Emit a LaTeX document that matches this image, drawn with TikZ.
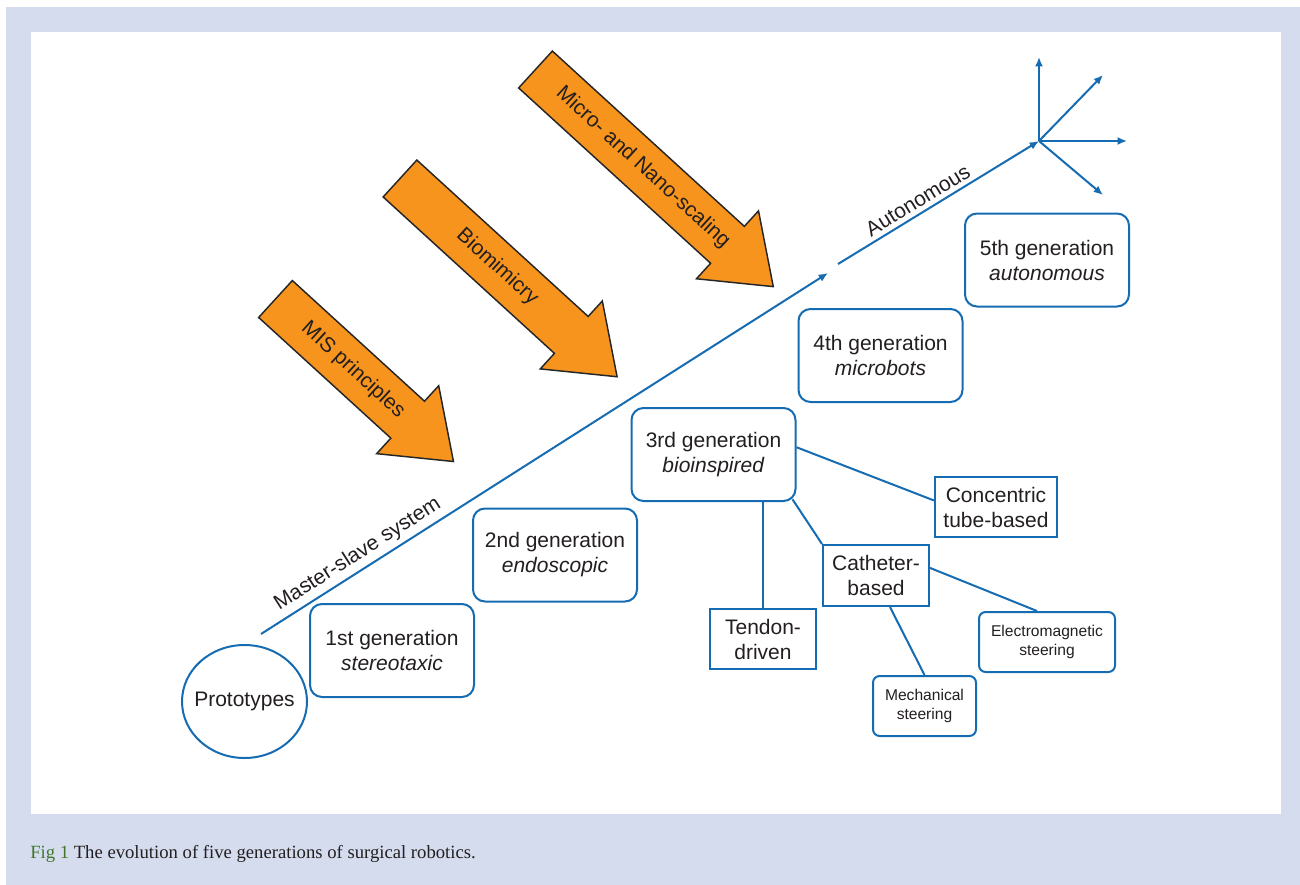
\documentclass[tikz,border=0pt]{standalone}
\usepackage{fontspec}
\setmainfont{Liberation Sans}
\newfontfamily\capfont{Liberation Serif}
\usepackage{xcolor}
\usetikzlibrary{arrows.meta,shapes.geometric}
\definecolor{framebg}{RGB}{212,220,238}
\definecolor{flowblue}{RGB}{22,108,178}
\definecolor{trendorange}{RGB}{247,148,30}
\definecolor{inktext}{RGB}{35,31,32}
\definecolor{figgreen}{RGB}{66,118,46}

\begin{document}
\begin{tikzpicture}[
    x=0.75pt, y=-0.75pt,
    >={Latex[length=7pt,width=6pt]},
    every node/.style={font=\fontsize{15.75}{18.75}\selectfont, text=inktext},
    gen/.style={draw=flowblue, line width=1.5pt, rounded corners=9pt, minimum width=123pt, minimum height=69.75pt, align=center, inner sep=2pt},
    sub/.style={draw=flowblue, line width=1.5pt, align=center, inner sep=2pt, minimum height=45pt},
    subsmall/.style={sub, rounded corners=5pt, font=\fontsize{11.7}{14}\selectfont},
    link/.style={draw=flowblue, line width=1.5pt},
    trend/.style={draw=black!85, line width=1.1pt, fill=trendorange, line join=miter}
]

% --- Frame and page ---
\fill[white] (0,0) rectangle (1300,885);
\fill[framebg] (6,7) rectangle (1300,885);
\fill[white] (31,32) rectangle (1281,814);

% --- Orange trend arrows ---
\foreach \tx/\ty/\len/\nm/\txt in {275.5/299/179/mis/MIS principles, 400/178.5/232/bio/Biomimicry, 535.5/69.5/260/nano/Micro- and Nano-scaling}{
  \begin{scope}[shift={(\tx,\ty)}, rotate=-42.4]
    \draw[trend] (0,-25) -- (\len,-25) -- (\len,-46) -- (\len+62,0) -- (\len,46) -- (\len,25) -- (0,25) -- cycle;
    \node[transform shape] (\nm) at ({(\len+31)/2},0) {\txt};
  \end{scope}
}

% --- Generations ---
\node[draw=flowblue, line width=1.5pt, ellipse, minimum width=93.75pt, minimum height=84.75pt, inner sep=0pt] (proto) at (244.5,701.5) {\makebox[0pt]{Prototypes}};
\node[gen] (gen1) at (392,650.5) {1st generation\\\textit{stereotaxic}};
\node[gen] (gen2) at (555,555) {2nd generation\\\textit{endoscopic}};
\node[gen] (gen3) at (713.5,454.5) {3rd generation\\\textit{bioinspired}};
\node[gen] (gen4) at (880.5,355.5) {4th generation\\\textit{microbots}};
\node[gen] (gen5) at (1047,260) {5th generation\\\textit{autonomous}};

% --- Bioinspired branches ---
\node[sub, minimum width=91.5pt] (conc) at (996,507) {Concentric\\tube-based};
\node[sub, minimum width=79.5pt, minimum height=45.75pt] (cath) at (876,575.5) {Catheter-\\based};
\node[sub, minimum width=79.5pt] (tendon) at (763,639) {Tendon-\\driven};
\node[subsmall, minimum width=102pt] (emag) at (1047,642) {Electromagnetic\\steering};
\node[subsmall, minimum width=77.25pt] (mech) at (924.5,706) {Mechanical\\steering};

\draw[link] (gen3.5) -- (conc.174);
\draw[link] (tendon.north) -- (tendon.north |- gen3.south);
\draw[link] ([xshift=-3pt,yshift=2pt]gen3.south east) -- (cath.north west);
\draw[link] (cath.8) -- ([xshift=-7.5pt]emag.north);
\draw[link] ([xshift=10.5pt]cath.south) -- (mech.north);

% --- Evolution axis ---
\coordinate (msStart) at (261,634);
\coordinate (msEnd) at (828,273);
\coordinate (auStart) at (838,264);
\coordinate (hub) at (1039,141);
\draw[link, ->] (msStart) -- node[sloped, above, pos=0.185]{Master-slave system} (msEnd);
\draw[link, ->] (auStart) -- node[sloped, above, pos=0.43]{Autonomous} (hub);

% --- Autonomous directions ---
\coordinate (dirUp) at (1039,57);
\coordinate (dirUR) at (1103,75);
\coordinate (dirR) at (1127,141);
\coordinate (dirDR) at (1103,195);
\foreach \tip in {dirUp, dirUR, dirR, dirDR}
  \draw[link, ->] (hub) -- (\tip);

% --- Caption ---
\node[anchor=base west, inner sep=0pt, font=\capfont\fontsize{14}{16}\selectfont] (caption) at (30,858) {\textcolor{figgreen}{Fig 1} The evolution of five generations of surgical robotics.};
\end{tikzpicture}
\end{document}
